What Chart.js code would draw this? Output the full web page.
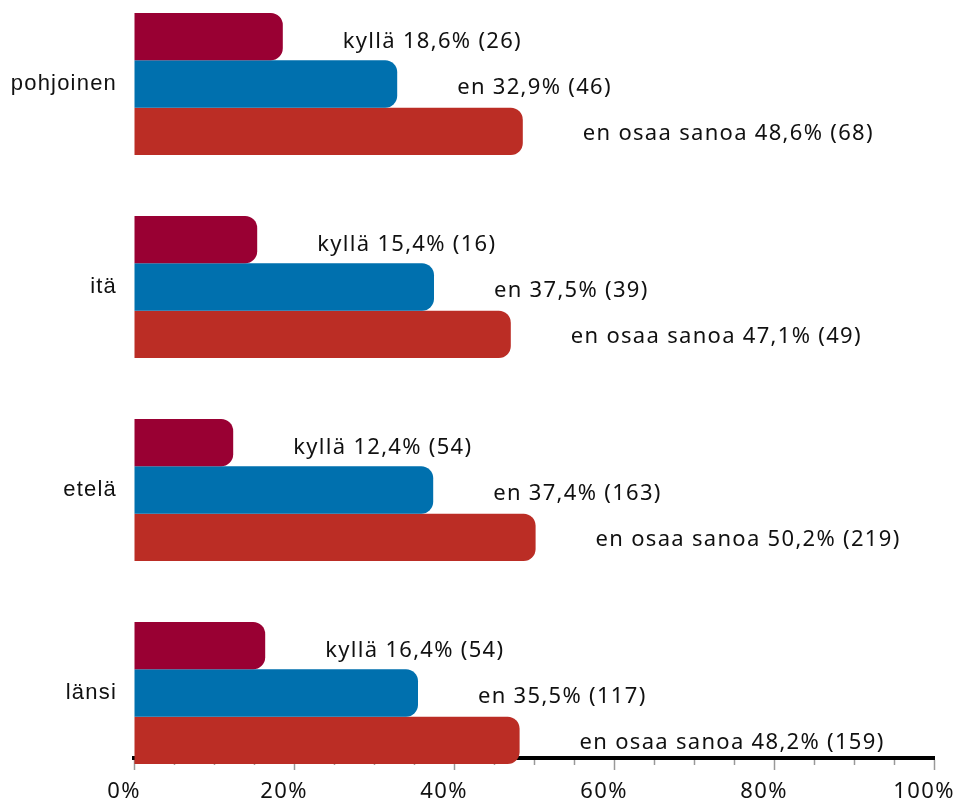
<!DOCTYPE html>
<html>
<head>
<meta charset="utf-8">
<script src="https://cdn.jsdelivr.net/npm/chart.js@4"></script>
<style>
  html, body { margin: 0; padding: 0; background: #fff; }
  #wrap { width: 958px; height: 802px; }
</style>
</head>
<body>
<div id="wrap"><canvas id="chart" width="958" height="802"></canvas></div>
<script>
const regions = ["pohjoinen", "itä", "etelä", "länsi"];
const seriesNames = ["kyllä", "en", "en osaa sanoa"];
const kyllaPct = [18.6, 15.4, 12.4, 16.4];
const kyllaN = [26, 16, 54, 54];
const enPct = [32.9, 37.5, 37.4, 35.5];
const enN = [46, 39, 163, 117];
const eosPct = [48.6, 47.1, 50.2, 48.2];
const eosN = [68, 49, 219, 159];
const majorStep = 20;
const minorStep = 5;

const colors = ["#990033", "#0070ae", "#bb2d25"];
const labelDy = [5, 4, 2];

function fmtPct(v) {
  return v.toFixed(1).replace(".", ",") + "%";
}

function toPoints(vals) {
  return vals.map((v, i) => ({ x: v, y: i }));
}

// scales must not push the plot area in for their labels
function noPad(s) {
  s.paddingLeft = s.paddingRight = s.paddingTop = s.paddingBottom = 0;
}

const counts = [kyllaN, enN, eosN];

// labels to the right of each bar: "kyllä 18,6% (26)"
const barLabels = {
  id: "barLabels",
  beforeDraw(chart) {
    chart.ctx.letterSpacing = "1.4px";
  },
  beforeDatasetsDraw(chart) {
    const ctx = chart.ctx;
    const xs = chart.scales.x;
    const bottom = chart.chartArea.bottom;
    ctx.save();
    ctx.strokeStyle = "#999";
    ctx.lineWidth = 1.5;
    for (let v = minorStep; v < 100; v += minorStep) {
      if (v % majorStep === 0) continue;
      const px = Math.round(xs.getPixelForValue(v)) + 0.5;
      ctx.beginPath();
      ctx.moveTo(px, bottom + 2);
      ctx.lineTo(px, bottom + 7);
      ctx.stroke();
    }
    ctx.restore();
  },
  afterDatasetsDraw(chart) {
    const ctx = chart.ctx;
    ctx.save();
    ctx.letterSpacing = "1.3px";
    ctx.font = '22px "Noto Sans"';
    ctx.fillStyle = "#111";
    ctx.textAlign = "left";
    ctx.textBaseline = "middle";
    chart.data.datasets.forEach((ds, di) => {
      chart.getDatasetMeta(di).data.forEach((bar, i) => {
        const text = `${seriesNames[di]} ${fmtPct(ds.data[i].x)} (${counts[di][i]})`;
        ctx.fillText(text, bar.x + 60, bar.y + labelDy[di]);
      });
    });
    ctx.restore();
    // region names are drawn after this (y ticks z: 1)
    ctx.letterSpacing = "1.2px";
  },
  afterDraw(chart) {
    chart.ctx.letterSpacing = "0px";
  }
};

new Chart(document.getElementById("chart"), {
  type: "bar",
  data: {
    datasets: [
      { label: seriesNames[0], data: toPoints(kyllaPct), backgroundColor: colors[0] },
      { label: seriesNames[1], data: toPoints(enPct), backgroundColor: colors[1] },
      { label: seriesNames[2], data: toPoints(eosPct), backgroundColor: colors[2] }
    ]
  },
  options: {
    indexAxis: "y",
    responsive: false,
    animation: false,
    layout: { autoPadding: false, padding: { left: 0, right: 24, top: 0, bottom: 0 } },
    datasets: {
      bar: {
        categoryPercentage: 0.7,
        barPercentage: 1,
        borderRadius: 12,
        borderSkipped: "start",
        clip: false
      }
    },
    plugins: { legend: { display: false }, tooltip: { enabled: false } },
    scales: {
      x: {
        type: "linear",
        position: "bottom",
        min: 0,
        max: 100,
        grid: { drawOnChartArea: false, tickLength: 12, tickColor: "#999", tickWidth: 1.5 },
        border: { color: "#000", width: 4 },
        ticks: {
          stepSize: majorStep,
          padding: 9,
          labelOffset: -10,
          color: "#111",
          font: { family: "Noto Sans", size: 22 },
          callback: v => v + "%"
        },
        afterFit: s => { s.height = 44; noPad(s); }
      },
      y: {
        type: "linear",
        reverse: true,
        offset: false,
        min: -0.414,
        max: 3.32,
        grid: { display: false, offset: false },
        border: { display: false },
        afterBuildTicks: s => { s.ticks = regions.map((r, i) => ({ value: i })); },
        ticks: {
          z: 1,
          autoSkip: false,
          padding: 9,
          color: "#111",
          font: { family: "Liberation Sans", size: 22 },
          callback: v => regions[v] ?? ""
        },
        afterFit: s => { s.width = 134; noPad(s); }
      }
    }
  },
  plugins: [barLabels]
});
</script>
</body>
</html>
